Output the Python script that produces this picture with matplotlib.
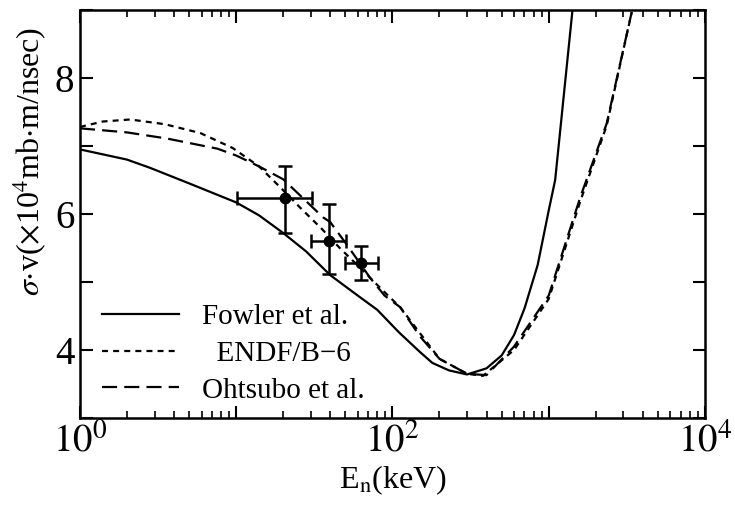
import numpy as np
import matplotlib
matplotlib.use("Agg")
import matplotlib.pyplot as plt
from matplotlib.ticker import LogLocator, FixedLocator, NullFormatter

plt.rcParams['font.family'] = ['Liberation Serif', 'DejaVu Serif']
plt.rcParams['mathtext.fontset'] = 'stix'

# Fowler et al. (solid)
fowler_e = [1, 2, 2.8, 5, 10, 14, 20, 28, 40, 60, 80, 110, 150, 180, 230, 300, 400, 500, 600, 700, 850, 1000, 1100, 1420]
fowler_y = [6.95, 6.80, 6.68, 6.45, 6.17, 5.98, 5.72, 5.45, 5.10, 4.80, 4.59, 4.26, 3.97, 3.81, 3.70, 3.64, 3.73, 3.92, 4.22, 4.61, 5.25, 6.05, 6.50, 9.00]

# ENDF/B-6 (short dashes)
endf_e = [1, 1.4, 2.1, 3.5, 5.9, 9.5, 14, 19, 26, 35, 46, 62, 89, 112, 200, 300, 380, 600, 1000, 1600, 2350, 3400]
endf_y = [7.28, 7.36, 7.39, 7.32, 7.19, 6.97, 6.70, 6.40, 6.08, 5.79, 5.50, 5.21, 4.85, 4.63, 3.87, 3.65, 3.62, 4.00, 4.75, 6.20, 7.30, 8.97]

# Ohtsubo et al. (long dashes)
ohtsubo_e = [1, 2, 3.6, 7.6, 10, 14, 20, 36, 40, 51, 72, 89, 112, 150, 200, 300, 400, 600, 1000, 1600, 2350, 3400]
ohtsubo_y = [7.26, 7.20, 7.11, 6.96, 6.86, 6.70, 6.51, 5.95, 5.88, 5.55, 5.06, 4.80, 4.63, 4.20, 3.87, 3.65, 3.63, 4.05, 4.80, 6.26, 7.33, 8.97]

# measured points
pt_e = [20.5, 39, 63]
pt_y = [6.23, 5.61, 5.28]
pt_e_lo = [10.1, 30, 50]
pt_e_hi = [30.5, 50.5, 81]
pt_y_lo = [5.72, 5.12, 5.03]
pt_y_hi = [6.70, 6.14, 5.53]

fig = plt.figure(figsize=(7.35, 5.08), dpi=100)
ax = fig.add_axes([0.1088, 0.1772, 0.8503, 0.8031])

lw = 1.6
ax.plot(fowler_e, fowler_y, color='black', lw=lw, ls='-', label='Fowler et al.')
ax.plot(endf_e, endf_y, color='black', lw=lw, ls=(0, (2.7, 2.3)), label='  ENDF/B\u22126')
ax.plot(ohtsubo_e, ohtsubo_y, color='black', lw=lw, ls=(0, (6.8, 3.2)), label='Ohtsubo et al.')

pt_e = np.array(pt_e)
pt_y = np.array(pt_y)
xerr = [pt_e - np.array(pt_e_lo), np.array(pt_e_hi) - pt_e]
yerr = [pt_y - np.array(pt_y_lo), np.array(pt_y_hi) - pt_y]
ax.errorbar(pt_e, pt_y, xerr=xerr, yerr=yerr, fmt='o', color='black', ms=7.5,
            elinewidth=1.8, capsize=5, capthick=1.8)

ax.set_xscale('log')
ax.set_xlim(1, 1e4)
ax.set_ylim(3, 9)

ax.set_xticks([1, 10, 100, 1000, 10000])
ax.set_xticklabels([r'$10^{0}$', '', r'$10^{2}$', '', r'$10^{4}$'])
ax.xaxis.set_minor_locator(LogLocator(base=10, subs=np.arange(2, 10), numticks=20))
ax.xaxis.set_minor_formatter(NullFormatter())

ax.yaxis.set_major_locator(FixedLocator([3, 4, 5, 6, 7, 8, 9]))
ax.set_yticklabels(['', '4', '', '6', '', '8', ''])

ax.tick_params(axis='both', which='major', direction='in', length=9, width=1.5,
               top=True, right=True, labelsize=28, pad=4)
ax.tick_params(axis='x', which='minor', direction='in', length=5, width=1.2, top=True)
for s in ax.spines.values():
    s.set_linewidth(1.8)

ax.set_ylabel(r'$\sigma$$\cdot$v($\times$10$^4$mb$\cdot$m/nsec)', fontsize=23)
ax.yaxis.set_label_coords(-0.05, 0.63)
ax.set_xlabel(r'E$_\mathrm{n}$(keV)', fontsize=23, labelpad=2)

leg = ax.legend(loc='lower left', bbox_to_anchor=(0.035, 0.035), frameon=False,
                fontsize=21, handlelength=2.65, handletextpad=0.8, labelspacing=0.36,
                borderpad=0, borderaxespad=0)

fig.savefig('out.png', dpi=100)
